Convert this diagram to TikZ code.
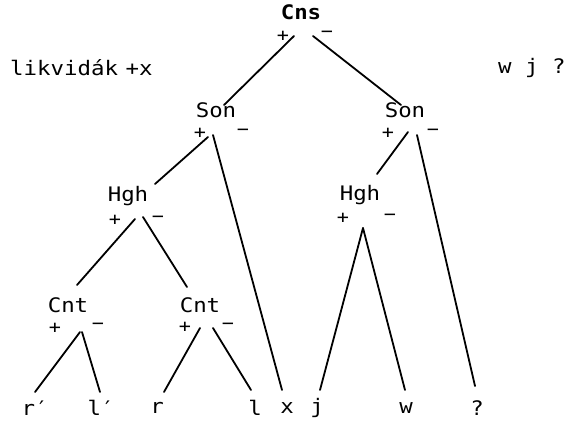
\documentclass[tikz,border=0pt]{standalone}
\usepackage{fontspec}
\setmainfont[FakeStretch=1.12]{DejaVu Sans Mono}
\begin{document}
\begin{tikzpicture}[x=1pt,y=-1pt,
  lab/.style={font=\fontsize{20}{24}\selectfont, inner sep=0pt},
  sgn/.style={font=\fontsize{18}{20}\selectfont, inner sep=0pt},
  branch/.style={line width=1.8pt, line cap=round}]
\useasboundingbox (0,0) rectangle (570,421);

% feature labels
\node[lab, font=\fontsize{20}{24}\selectfont\bfseries] (cns) at (301,12) {Cns};
\node[lab] (sonL) at (216,110) {Son};
\node[lab] (sonR) at (405,110) {Son};
\node[lab] (hghL) at (128,196) {Hgh};
\node[lab] (hghR) at (360,195) {Hgh};
\node[lab] (cntL) at (68,305) {Cnt};
\node[lab] (cntR) at (200,305) {Cnt};

% side notes
\node[lab, anchor=west] (note) at (10,68) {likvidák\kern-6pt\ +x};
\node[lab, anchor=west] (rest) at (498,68) {w j ?};

% leaves
\node[lab] (rp) at (35,408) {r′};
\node[lab] (lp) at (101,408) {l′};
\node[lab] (r)  at (157,408) {r};
\node[lab] (l)  at (255,408) {l};
\node[lab] (x)  at (287,408) {x};
\node[lab] (j)  at (317,408) {j};
\node[lab] (w)  at (406,408) {w};
\node[lab] (q)  at (477,408) {?};

% plus / minus signs
\node[sgn] (cnsP)  at (283,36) {+};  \node[sgn] (cnsM)  at (327,34) {−};
\node[sgn] (sonLP) at (200,133) {+}; \node[sgn] (sonLM) at (243,132) {−};
\node[sgn] (sonRP) at (388,133) {+}; \node[sgn] (sonRM) at (433,132) {−};
\node[sgn] (hghLP) at (115,220) {+}; \node[sgn] (hghLM) at (158,219) {−};
\node[sgn] (hghRP) at (343,218) {+}; \node[sgn] (hghRM) at (390,217) {−};
\node[sgn] (cntLP) at (55,328) {+};  \node[sgn] (cntLM) at (98,326) {−};
\node[sgn] (cntRP) at (185,327) {+}; \node[sgn] (cntRM) at (228,326) {−};

% branch end points
\coordinate (cnsA) at (294,36);   \coordinate (cnsB) at (313,36);
\coordinate (sonLT) at (224,105); \coordinate (sonRT) at (401,105);
\coordinate (sonLA) at (208,137); \coordinate (sonLB) at (213,135);
\coordinate (sonRA) at (408,132); \coordinate (sonRB) at (417,135);
\coordinate (hghLT) at (155,184); \coordinate (hghRT) at (377,174);
\coordinate (hghLA) at (135,219); \coordinate (hghLB) at (143,217);
\coordinate (hghRA) at (363,228);
\coordinate (cntLT) at (77,285);  \coordinate (cntRT) at (187,287);
\coordinate (cntLA) at (80,332);  \coordinate (cntLB) at (82,332);
\coordinate (cntRA) at (200,328); \coordinate (cntRB) at (213,328);
\coordinate (rpT) at (35,392);  \coordinate (lpT) at (100,392);
\coordinate (rT)  at (164,392); \coordinate (lT)  at (251,390);
\coordinate (xT)  at (282,390); \coordinate (jT)  at (320,390);
\coordinate (wT)  at (405,390); \coordinate (qT)  at (475,386);

% branches
\draw[branch] (cnsA) -- (sonLT);
\draw[branch] (cnsB) -- (sonRT);
\draw[branch] (sonLA) -- (hghLT);
\draw[branch] (sonLB) -- (xT);
\draw[branch] (sonRA) -- (hghRT);
\draw[branch] (sonRB) -- (qT);
\draw[branch] (hghLA) -- (cntLT);
\draw[branch] (hghLB) -- (cntRT);
\draw[branch] (hghRA) -- (jT);
\draw[branch] (hghRA) -- (wT);
\draw[branch] (cntLA) -- (rpT);
\draw[branch] (cntLB) -- (lpT);
\draw[branch] (cntRA) -- (rT);
\draw[branch] (cntRB) -- (lT);
\end{tikzpicture}
\end{document}
